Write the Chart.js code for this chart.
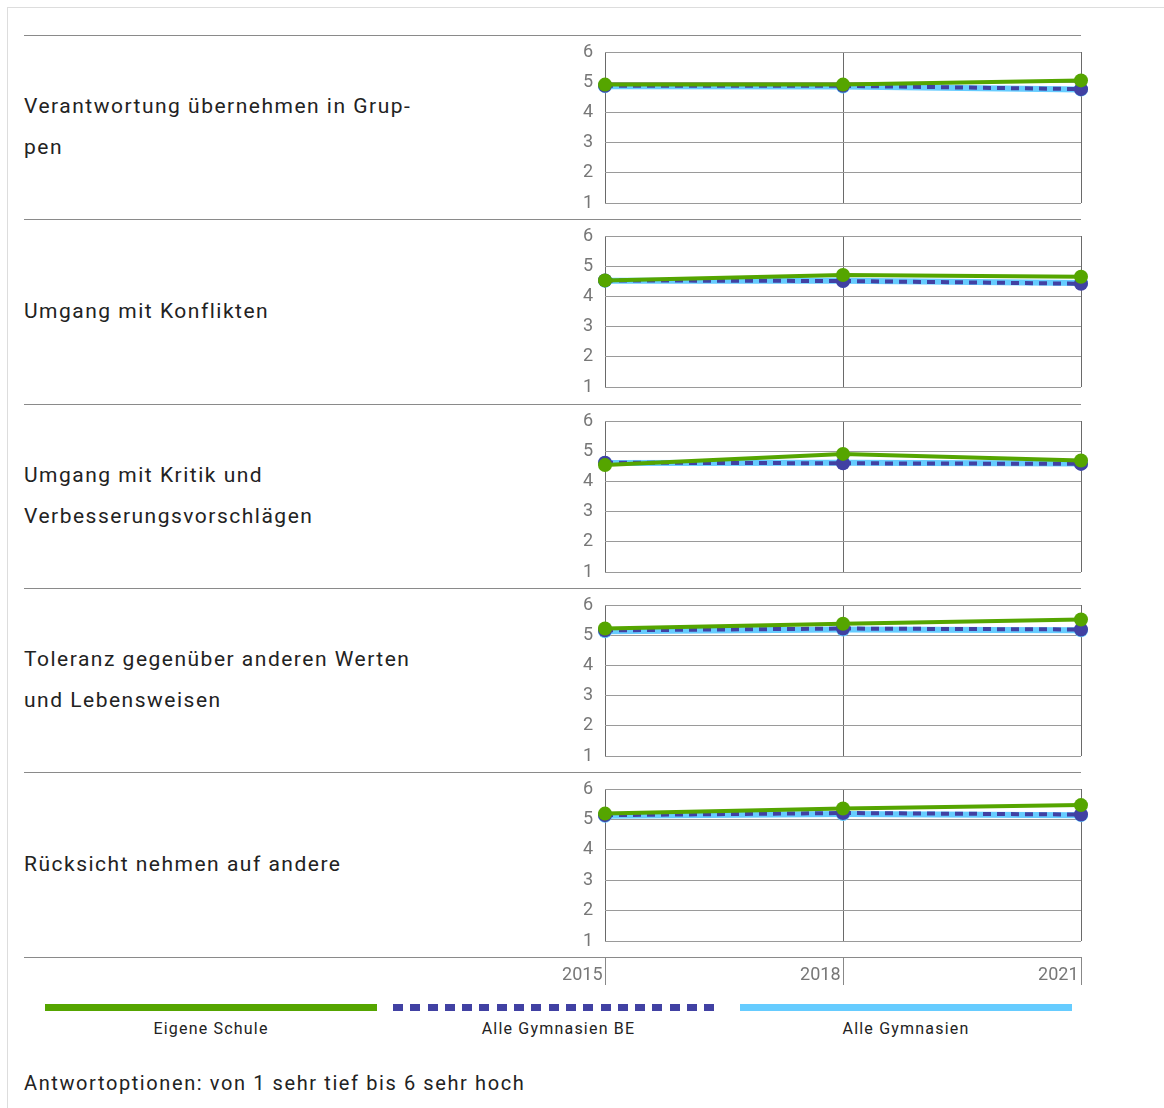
<!DOCTYPE html>
<html>
<head>
<meta charset="utf-8">
<script src="https://cdn.jsdelivr.net/npm/chart.js@4"></script>
<style>
  html, body { margin:0; padding:0; background:#fff; }
  body { width:1164px; height:1108px; position:relative; overflow:hidden; font-family: Roboto, "Open Sans", sans-serif; }
  .frame { position:absolute; left:7px; top:7px; right:0; bottom:0; border-top:1px solid #ddd; border-left:1px solid #ddd; }
  .sep { position:absolute; left:24px; width:1057px; height:1px; background:#8a8a8a; }
  .rowlabel { position:absolute; left:24px; width:520px; font-size:21px; letter-spacing:1.5px; line-height:41px; color:#222; display:flex; align-items:center; }
  canvas { position:absolute; }
  .leg-line { position:absolute; height:7px; }
  .leg-text { position:absolute; font-size:16px; letter-spacing:1.2px; color:#222; text-align:center; }
  .note { position:absolute; left:24px; top:1071px; font-size:20px; letter-spacing:1.6px; color:#222; }
</style>
</head>
<body>
<div class="frame"></div>
<div id="root"></div>
<div class="note">Antwortoptionen: von 1 sehr tief bis 6 sehr hoch</div>
<script>
// ---- data ----
const years = ['2015', '2018', '2021'];
const items = [
  ['Verantwortung übernehmen in Grup-', 'pen'],
  ['Umgang mit Konflikten'],
  ['Umgang mit Kritik und', 'Verbesserungsvorschlägen'],
  ['Toleranz gegenüber anderen Werten', 'und Lebensweisen'],
  ['Rücksicht nehmen auf andere']
];
const seriesNames = ['Eigene Schule', 'Alle Gymnasien BE', 'Alle Gymnasien'];
const eigeneSchule = [
  [4.92, 4.92, 5.06],
  [4.53, 4.71, 4.65],
  [4.54, 4.91, 4.69],
  [5.22, 5.38, 5.52],
  [5.19, 5.36, 5.47]
];
const gymnasienBE = [
  [4.88, 4.88, 4.77],
  [4.53, 4.51, 4.42],
  [4.62, 4.60, 4.58],
  [5.16, 5.22, 5.19],
  [5.14, 5.21, 5.16]
];
const gymnasienAlle = [
  [4.87, 4.86, 4.76],
  [4.52, 4.52, 4.44],
  [4.61, 4.62, 4.59],
  [5.13, 5.19, 5.16],
  [5.12, 5.18, 5.14]
];
const yTicks = [1, 2, 3, 4, 5, 6];

// ---- styles ----
const GREEN = '#55a500', DARKBLUE = '#4141a3', LIGHTBLUE = '#66ccff';
const panelTops = [35, 219, 404, 588, 772];
const root = document.getElementById('root');

// separators
panelTops.concat([957]).forEach(t => {
  const d = document.createElement('div');
  d.className = 'sep'; d.style.top = t + 'px';
  root.appendChild(d);
});

// row labels
items.forEach((lines, i) => {
  const d = document.createElement('div');
  d.className = 'rowlabel';
  d.style.top = panelTops[i] + 'px';
  d.style.height = '184px';
  d.innerHTML = '<div>' + lines.join('<br>') + '</div>';
  root.appendChild(d);
});

const xAxisPlugin = {
  id: 'xAxisBelow',
  afterDraw(chart) {
    if (!chart.options.plugins.xAxisBelow || !chart.options.plugins.xAxisBelow.show) return;
    const ctx = chart.ctx, xs = chart.scales.x;
    const top = chart.chartArea.bottom + 16, bottom = top + 28;
    ctx.save();
    ctx.strokeStyle = '#888'; ctx.lineWidth = 1;
    ctx.fillStyle = '#777';
    ctx.font = '18px Roboto, sans-serif';
    ctx.textAlign = 'right'; ctx.textBaseline = 'middle';
    years.forEach((y, i) => {
      const px = Math.round(xs.getPixelForTick(i)) + 0.5;
      ctx.beginPath(); ctx.moveTo(px, top); ctx.lineTo(px, bottom); ctx.stroke();
      ctx.fillText(y, px - 3, top + 18);
    });
    ctx.restore();
  }
};

items.forEach((_, i) => {
  const last = i === items.length - 1;
  const c = document.createElement('canvas');
  const H = last ? 220 : 184;
  c.width = 560; c.height = H;
  c.style.left = '540px'; c.style.top = panelTops[i] + 'px';
  c.style.width = '560px'; c.style.height = H + 'px';
  root.appendChild(c);
  new Chart(c, {
    type: 'line',
    data: {
      labels: years,
      datasets: [
        { label: seriesNames[0], data: eigeneSchule[i], borderColor: GREEN, backgroundColor: GREEN,
          borderWidth: 4, pointRadius: 7, pointBorderWidth: 0, clip: false, tension: 0 },
        { label: seriesNames[1], data: gymnasienBE[i], borderColor: DARKBLUE, backgroundColor: DARKBLUE,
          borderWidth: 4, borderDash: [8, 6], pointRadius: 7, pointBorderWidth: 0, clip: false, tension: 0 },
        { label: seriesNames[2], data: gymnasienAlle[i], borderColor: LIGHTBLUE, backgroundColor: LIGHTBLUE,
          borderWidth: 6, pointRadius: 7, pointBorderWidth: 0, clip: false, tension: 0 }
      ]
    },
    options: {
      responsive: false, animation: false, devicePixelRatio: 1,
      layout: { padding: { top: 17, right: 19, bottom: last ? 0 : 16, left: 0 } },
      plugins: { legend: { display: false }, tooltip: { enabled: false }, xAxisBelow: { show: last } },
      scales: {
        x: {
          type: 'category',
          grid: { color: '#6a6a6a', lineWidth: 1, drawTicks: false },
          border: { display: false },
          ticks: { display: false },
          afterFit: s => { s.height = last ? 51 : 0; s.paddingLeft = 0; s.paddingRight = 0; }
        },
        y: {
          min: 1, max: 6,
          afterBuildTicks: s => { s.ticks = yTicks.map(v => ({ value: v })); },
          grid: { color: '#9a9a9a', lineWidth: 1, drawTicks: false },
          border: { display: false },
          ticks: { color: '#777', font: { size: 18, family: 'Roboto' }, padding: 12 },
          afterFit: s => { s.width = 65; s.paddingTop = 0; s.paddingBottom = 0; }
        }
      }
    },
    plugins: [xAxisPlugin]
  });
});

// legend
const legendStyles = [
  { bg: GREEN },
  { bg: 'repeating-linear-gradient(90deg,' + DARKBLUE + ' 0 10px, transparent 10px 17.3px)' },
  { bg: LIGHTBLUE }
];
seriesNames.forEach((name, i) => {
  const left = 45 + i * 347.5;
  const l = document.createElement('div');
  l.className = 'leg-line';
  l.style.left = left + 'px'; l.style.top = '1004px'; l.style.width = (i === 1 ? 328 : 332) + 'px';
  l.style.background = legendStyles[i].bg;
  root.appendChild(l);
  const t = document.createElement('div');
  t.className = 'leg-text';
  t.style.left = left + 'px'; t.style.top = '1019px'; t.style.width = '332px';
  t.textContent = name;
  root.appendChild(t);
});
</script>
</body>
</html>
